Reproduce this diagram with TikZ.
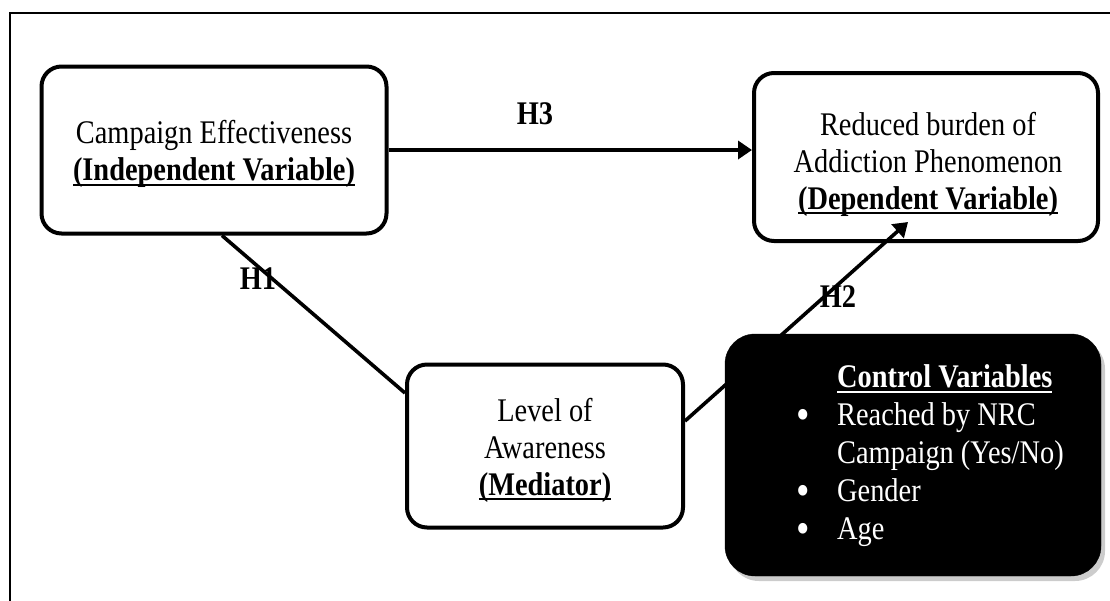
\documentclass[tikz,border=0pt]{standalone}
\usepackage{fontspec}
\setmainfont{Liberation Serif}[FakeStretch=0.86]
\usetikzlibrary{arrows.meta,shadows,calc}
\newcommand\myul[1]{\setbox0\hbox{#1}\rlap{\rule[-5pt]{\wd0}{2pt}}\box0}
\newcommand\mybul{\llap{\raisebox{-3.5pt}{\scalebox{1.35}{\textbullet}}\hspace{27pt}}}
\tikzset{
  box/.style={draw=black,line width=4pt,rounded corners=20pt,fill=white},
  txt/.style={align=center,inner sep=0pt,font=\fontsize{33}{37}\selectfont},
  hlab/.style={inner sep=0pt,font=\fontsize{33}{37}\selectfont\bfseries},
  conn/.style={line width=3.6pt},
  tip/.style={-{Triangle[length=14pt,width=18pt]}},
  ctrl/.style={fill=black,draw=black,rounded corners=30pt,
    drop shadow={opacity=0.4,shadow xshift=4pt,shadow yshift=-5pt}},
}
\begin{document}
\begin{tikzpicture}[x=1pt,y=-1pt]
\useasboundingbox (0,0) rectangle (1110,600);
\clip (0,0) rectangle (1110,600);
\draw[line width=2pt] (10,12.5) rectangle (1130,620);

\node[box,minimum width=345pt,minimum height=167pt] (A) at (214,150) {};
\node[box,minimum width=344pt,minimum height=168pt] (B) at (926,157) {};
\node[box,minimum width=276pt,minimum height=163pt] (C) at (545,446) {};

\node[txt] (At) at (214,154) {Campaign Effectiveness\\\myul{\textbf{(Independent Variable)}}};
\node[txt] (Bt) at (928,164) {Reduced burden of\\Addiction Phenomenon\\\myul{\textbf{(Dependent Variable)}}};
\node[txt] (Ct) at (545,450) {Level of\\Awareness\\\myul{\textbf{(Mediator)}}};

\draw[conn,tip] (A.east) -- (A.east -| B.west);
\draw[conn] ([xshift=8pt]A.south) -- ([yshift=53pt]C.west);
\draw[conn,tip] ([yshift=25pt]C.east) -- ([xshift=-18pt,yshift=21pt]B.south);

\node[hlab] (H3) at (535,114) {H3};
\node[hlab] (H1) at (258,279) {H1};
\node[hlab] (H2) at (838,297) {H2};

\node[ctrl,minimum width=376pt,minimum height=242pt] (D) at (913,455) {};
\node[txt,align=left,anchor=west,text=white,font=\fontsize{33}{38}\selectfont] (Dt) at (837,456)
  {\myul{\textbf{Control Variables}}\\
   \mybul Reached by NRC\\
   Campaign (Yes/No)\\
   \mybul Gender\\
   \mybul Age};
\end{tikzpicture}
\end{document}
